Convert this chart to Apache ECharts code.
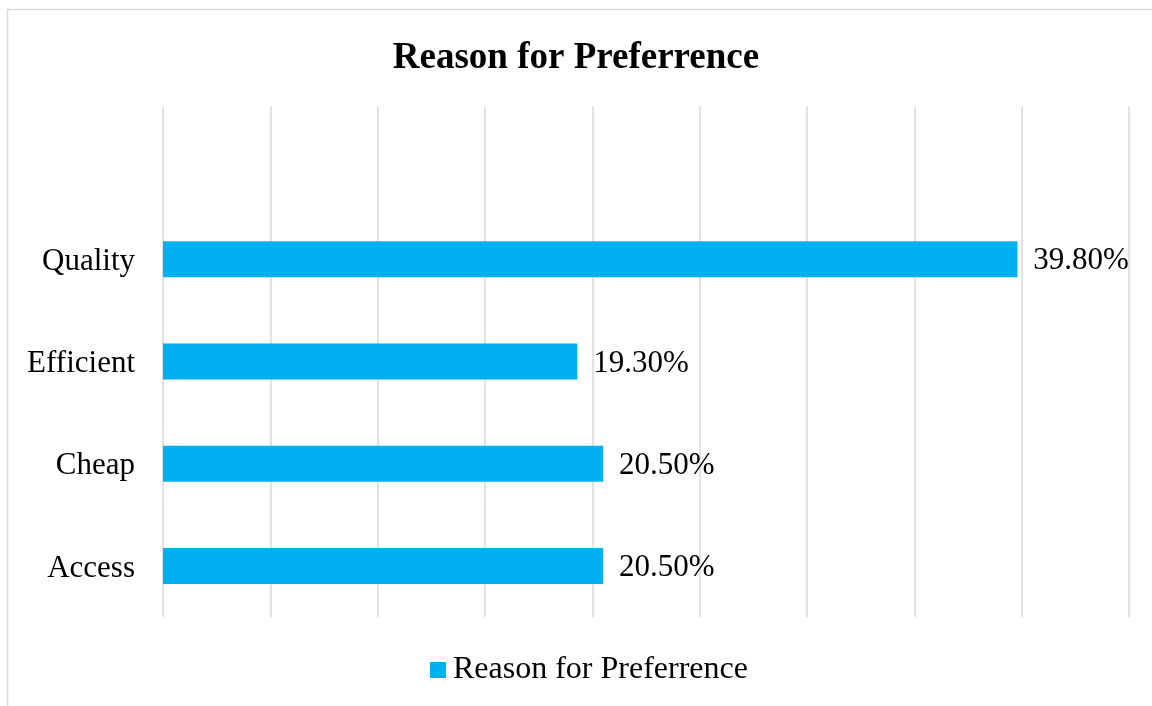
<!DOCTYPE html>
<html>
<head>
<meta charset="utf-8">
<script src="https://cdn.jsdelivr.net/npm/echarts@6/dist/echarts.min.js"></script>
<style>html,body{margin:0;padding:0;background:#fff}#c{width:1152px;height:706px}</style>
</head>
<body>
<div id="c"></div>
<script>
const categories = ['Access', 'Cheap', 'Efficient', 'Quality', ''];
const values = [20.5, 20.5, 19.3, 39.8, '-'];
const seriesName = 'Reason for Preferrence';
const titleText = 'Reason for Preferrence';

const chart = echarts.init(document.getElementById('c'), null, {renderer: 'canvas'});
const font = '"Liberation Serif", "Times New Roman", serif';
chart.setOption({
  animation: false,
  backgroundColor: '#fff',
  graphic: [{
    type: 'rect', shape: {x: 7.5, y: 9.5, width: 1200, height: 800},
    style: {fill: 'none', stroke: '#d9d9d9', lineWidth: 1.5}, silent: true
  }],
  title: {
    text: titleText, left: 'center', top: 35,
    textStyle: {fontFamily: font, fontSize: 37, fontWeight: 'bold', color: '#000'}
  },
  legend: {
    bottom: 15, left: 425, itemWidth: 16, itemHeight: 16, itemGap: 8,
    icon: 'rect',
    textStyle: {fontFamily: font, fontSize: 32, color: '#000', padding: [0, 0, 0, 2]},
    data: [seriesName]
  },
  grid: {left: 163, right: 23, top: 106, bottom: 89, containLabel: false},
  xAxis: {
    type: 'value', min: 0, max: 45, interval: 5,
    axisLabel: {show: false}, axisLine: {show: false}, axisTick: {show: false},
    splitLine: {show: true, lineStyle: {color: '#d9d9d9', width: 1.5}}
  },
  yAxis: {
    type: 'category', data: categories,
    axisLine: {show: false}, axisTick: {show: false},
    axisLabel: {
      fontFamily: font, fontSize: 31, color: '#000', margin: 28,
      formatter: v => '{a|' + v + '}',
      rich: {a: {fontFamily: font, fontSize: 31, color: '#000', padding: [5, 0, 0, 0]}}
    }
  },
  series: [{
    name: seriesName, type: 'bar', data: values, barWidth: 36,
    itemStyle: {color: '#00B0F0'},
    label: {
      show: true, position: 'right', distance: 16, offset: [0, 2],
      fontFamily: font, fontSize: 31, color: '#000',
      formatter: p => p.value.toFixed(2) + '%'
    }
  }]
});
</script>
</body>
</html>
